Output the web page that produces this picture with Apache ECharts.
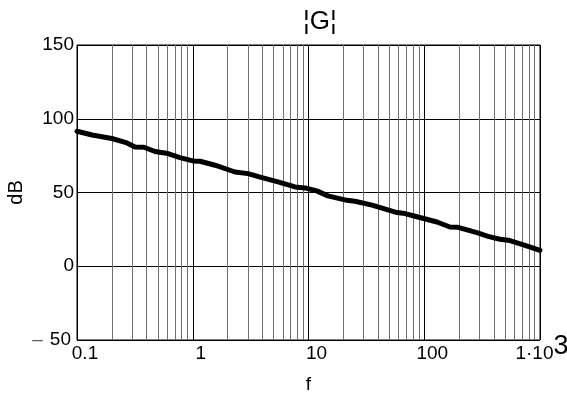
<!DOCTYPE html>
<html>
<head>
<meta charset="utf-8">
<script src="https://cdn.jsdelivr.net/npm/echarts@6/dist/echarts.min.js"></script>
<style>html,body{margin:0;padding:0;background:#fff}#c{width:567px;height:398px}</style>
</head>
<body>
<div id="c"></div>
<script>
const freq = [0.1, 0.135, 0.2, 0.27, 0.317, 0.379, 0.472, 0.611, 0.776, 1.0, 1.156, 1.557, 2.317, 3.0, 3.965, 5.45, 7.64, 9.33, 11.8, 14.7, 21.5, 25.2, 35.4, 58.2, 68.2, 83.2, 128.8, 166.8, 195.8, 285.6, 355.6, 451, 550, 742, 1000];
const gain = [91.5, 89.0, 86.6, 83.6, 80.9, 80.7, 77.8, 76.4, 73.7, 71.4, 71.2, 68.5, 63.9, 62.8, 60.1, 57.2, 53.8, 53.1, 51.1, 47.7, 44.7, 44.1, 41.4, 36.4, 35.7, 33.9, 30.0, 26.6, 26.4, 22.8, 20.3, 18.3, 17.4, 14.2, 10.8];
const minorGrid = [0.2,0.3,0.4,0.5,0.6,0.7,0.8,0.9, 2,3,4,5,6,7,8,9, 20,30,40,50,60,70,80,90, 200,300,400,500,600,700,800,900];
const xTickLabels = {0.1: '0.1', 1: '1', 10: '10', 100: '100'};
const yTickLabels = {150: '150', 100: '100', 50: '50', 0: '0'};
const titleText = '¦G¦';

const FONT = 'Liberation Sans, Arial, sans-serif';
const chart = echarts.init(document.getElementById('c'), null, {renderer: 'canvas'});
chart.setOption({
  animation: false,
  backgroundColor: '#fff',
  title: {
    text: titleText, left: 298, top: 4,
    textStyle: {fontFamily: FONT, fontSize: 26, fontWeight: 'normal', color: '#000'}
  },
  grid: {left: 77, right: 27, top: 45, bottom: 58, show: true, borderColor: '#000', borderWidth: 1, containLabel: false, outerBoundsMode: 'none'},
  xAxis: {
    type: 'log', logBase: 10, min: 0.1, max: 1000,
    name: 'f', nameLocation: 'middle', nameGap: 35, nameMoveOverlap: false,
    nameTextStyle: {fontFamily: FONT, fontSize: 19, color: '#000'},
    axisLine: {show: true, lineStyle: {color: '#000', width: 1}},
    axisTick: {show: false},
    splitLine: {show: true, lineStyle: {color: '#000', width: 1}},
    axisLabel: {
      margin: -7, fontFamily: FONT, fontSize: 19, color: '#000',
      formatter: function (v) {
        const r = Math.round(Math.log10(v));
        const key = Math.pow(10, r);
        if (r === 3) return '{b|1·10}{s|3}';
        return '{a|' + (xTickLabels[key] || String(v)) + '}';
      },
      rich: {
        a: {fontFamily: FONT, fontSize: 19, color: '#000', verticalAlign: 'top', padding: [11, 0, 0, 16]},
        b: {fontFamily: FONT, fontSize: 19, color: '#000', verticalAlign: 'top', padding: [11, 0, 0, 4]},
        s: {fontFamily: FONT, fontSize: 27, color: '#000', verticalAlign: 'top'}
      }
    }
  },
  yAxis: {
    type: 'value', min: -50, max: 150, interval: 50,
    name: 'dB', nameLocation: 'middle', nameGap: 51, nameMoveOverlap: false,
    nameTextStyle: {fontFamily: FONT, fontSize: 20, color: '#000'},
    axisLine: {show: true, lineStyle: {color: '#000', width: 1}},
    axisTick: {show: false},
    splitLine: {show: true, lineStyle: {color: '#000', width: 1}},
    axisLabel: {
      margin: 3, fontFamily: FONT, fontSize: 19, color: '#000',
      formatter: function (v) {
        if (v < 0) return '{d|–}{n|' + Math.abs(v) + '}';
        return yTickLabels[v] !== undefined ? yTickLabels[v] : String(v);
      },
      rich: {
        d: {fontFamily: FONT, fontSize: 19, color: '#555', padding: [0, 7, 0, 0]},
        n: {fontFamily: FONT, fontSize: 19, color: '#000', padding: [0, 3, 0, 0]}
      }
    }
  },
  series: [
    {
      type: 'line', data: [], silent: true,
      markLine: {
        silent: true, symbol: ['none', 'none'], label: {show: false},
        lineStyle: {color: '#6e6e6e', width: 1, type: 'solid'},
        data: minorGrid.map(v => ({xAxis: v}))
      }
    },
    {
      type: 'line',
      data: freq.map((f, i) => [f, gain[i]]),
      showSymbol: false, smooth: false,
      lineStyle: {color: '#000', width: 5, cap: 'round', join: 'round'},
      z: 5
    }
  ]
});
</script>
</body>
</html>
